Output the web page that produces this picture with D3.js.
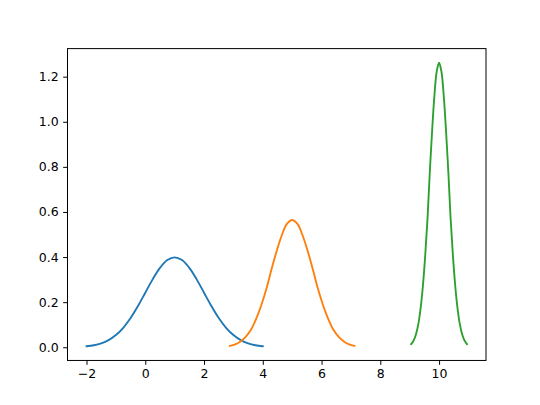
<!DOCTYPE html>
<html>
<head>
<meta charset="utf-8">
<script src="https://cdn.jsdelivr.net/npm/d3@7"></script>
<style>
  body { margin: 0; background: #fff; }
  .axis text { font-family: "DejaVu Sans", sans-serif; font-size: 12.5px; fill: #000; }
  .axis line { stroke: #000; stroke-width: 1px; }
  .axis path { display: none; }
</style>
</head>
<body>
<div id="chart"></div>
<script>
// values
var blueX = [-2, -1.75, -1.5, -1.25, -1, -0.75, -0.5, -0.25, 0, 0.25, 0.5, 0.75, 1,
             1.25, 1.5, 1.75, 2, 2.25, 2.5, 2.75, 3, 3.25, 3.5, 3.75, 4];
var blueY = [0.0044, 0.0091, 0.0175, 0.0317, 0.054, 0.0863, 0.1295, 0.1826, 0.242, 0.3011, 0.3521, 0.3867, 0.3989,
             0.3867, 0.3521, 0.3011, 0.242, 0.1826, 0.1295, 0.0863, 0.054, 0.0317, 0.0175, 0.0091, 0.0044];

var orangeX = [2.88, 3.06, 3.23, 3.41, 3.59, 3.76, 3.94, 4.12, 4.29, 4.47, 4.65, 4.82, 5,
               5.18, 5.35, 5.53, 5.71, 5.88, 6.06, 6.24, 6.41, 6.59, 6.77, 6.94, 7.12];
var orangeY = [0.0063, 0.0129, 0.0248, 0.0448, 0.0764, 0.122, 0.1831, 0.2582, 0.3422, 0.4258, 0.4979, 0.5469, 0.5642,
               0.5469, 0.4979, 0.4258, 0.3422, 0.2582, 0.1831, 0.122, 0.0764, 0.0448, 0.0248, 0.0129, 0.0063];

var greenX = [9.05, 9.13, 9.21, 9.29, 9.37, 9.45, 9.53, 9.61, 9.68, 9.76, 9.84, 9.92, 10,
              10.08, 10.16, 10.24, 10.32, 10.39, 10.47, 10.55, 10.63, 10.71, 10.79, 10.87, 10.95];
var greenY = [0.0139, 0.0288, 0.0553, 0.1002, 0.1708, 0.2729, 0.4095, 0.5774, 0.7653, 0.9522, 1.1134, 1.2229, 1.2616,
              1.2229, 1.1134, 0.9522, 0.7653, 0.5774, 0.4095, 0.2729, 0.1708, 0.1002, 0.0553, 0.0288, 0.0139];

var xTicks = [-2, 0, 2, 4, 6, 8, 10];
var yTicks = [0.0, 0.2, 0.4, 0.6, 0.8, 1.0, 1.2];

var series = [
  {xs: blueX, ys: blueY, color: "#1f77b4"},
  {xs: orangeX, ys: orangeY, color: "#ff7f0e"},
  {xs: greenX, ys: greenY, color: "#2ca02c"}
];

// figure layout (matplotlib defaults at 540x405)
var W = 540, H = 405;
var margin = {top: 48.6, right: 54, bottom: 44.55, left: 67.5},
    width = W - margin.left - margin.right,
    height = H - margin.top - margin.bottom;

var allX = [].concat(blueX, orangeX, greenX),
    allY = [].concat(blueY, orangeY, greenY);
var xe = d3.extent(allX), ye = d3.extent(allY);
var xp = (xe[1] - xe[0]) * 0.05, yp = (ye[1] - ye[0]) * 0.05;

var x = d3.scaleLinear().domain([xe[0] - xp, xe[1] + xp]).range([0, width]);
var y = d3.scaleLinear().domain([ye[0] - yp, ye[1] + yp]).range([height, 0]);

var svg = d3.select("#chart").append("svg")
    .attr("width", W)
    .attr("height", H)
  .append("g")
    .attr("transform", "translate(" + margin.left + "," + margin.top + ")");

// lines
var line = d3.line()
    .x(function(d) { return x(d[0]); })
    .y(function(d) { return y(d[1]); })
    .curve(d3.curveCatmullRom);

series.forEach(function(s) {
  var pts = s.xs.map(function(v, i) { return [v, s.ys[i]]; });
  svg.append("path")
      .datum(pts)
      .attr("d", line)
      .attr("fill", "none")
      .attr("stroke", s.color)
      .attr("stroke-width", 1.875)
      .attr("stroke-linecap", "square");
});

// axes
var xa = d3.axisBottom(x).tickValues(xTicks).tickSize(4.375).tickPadding(4.4)
    .tickFormat(function(d) { return d < 0 ? "\u2212" + Math.abs(d) : d; });
var ya = d3.axisLeft(y).tickValues(yTicks).tickSize(4.375).tickPadding(4.4)
    .tickFormat(d3.format(".1f"));

svg.append("g")
    .attr("class", "x axis")
    .attr("transform", "translate(0," + height + ")")
    .call(xa);

svg.append("g")
    .attr("class", "y axis")
    .call(ya);

// frame
svg.append("rect")
    .attr("x", 0).attr("y", 0)
    .attr("width", width).attr("height", height)
    .attr("fill", "none")
    .attr("stroke", "#000")
    .attr("stroke-width", 1);
</script>
</body>
</html>
